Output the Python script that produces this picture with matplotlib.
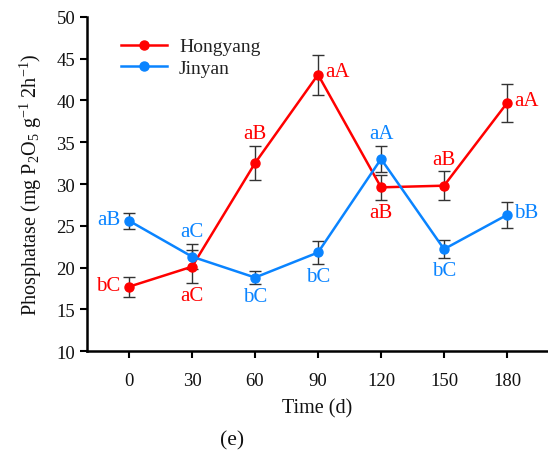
import matplotlib
matplotlib.use("Agg")
import matplotlib.pyplot as plt

plt.rcParams['font.family'] = ['Liberation Serif', 'DejaVu Serif']
plt.rcParams['mathtext.fontset'] = 'custom'
plt.rcParams['mathtext.rm'] = 'Liberation Serif'
plt.rcParams['mathtext.it'] = 'Liberation Serif:italic'

days = [0, 30, 60, 90, 120, 150, 180]
hongyang = [17.7, 20.1, 32.5, 43.1, 29.6, 29.8, 39.7]
hongyang_err = [1.2, 2.0, 2.05, 2.4, 1.5, 1.7, 2.25]
jinyan = [25.6, 21.3, 18.8, 21.8, 33.0, 22.2, 26.3]
jinyan_err = [0.95, 1.5, 0.8, 1.35, 1.6, 1.05, 1.6]
hongyang_labels = ['bC', 'aC', 'aB', 'aA', 'aB', 'aB', 'aA']
jinyan_labels = ['aB', 'aC', 'bC', 'bC', 'aA', 'bC', 'bB']
hongyang_pos = ['left', 'below', 'above', 'right', 'below', 'above', 'right']
jinyan_pos = ['left', 'above', 'below', 'below', 'above', 'below', 'right']

RED = '#ff0000'
BLUE = '#0a84ff'

fig = plt.figure(figsize=(5.48, 4.52), dpi=100)
ax = fig.add_axes([0.1588, 0.2212, 0.8412, 0.739])

for y, e, c, name in [(hongyang, hongyang_err, RED, 'Hongyang'),
                      (jinyan, jinyan_err, BLUE, 'Jinyan')]:
    ax.plot(days, y, color=c, lw=1.8, marker='o', ms=6.5, label=name, zorder=3)
    ax.errorbar(days, y, yerr=e, fmt='none', ecolor='#333333', elinewidth=1.0,
                capsize=4, capthick=1.0, zorder=2)

offsets = {'left': (-6, 1, 'right', 'center'),
           'right': (5, 2, 'left', 'center'),
           'above': (0, 2, 'center', 'bottom'),
           'below': (0, -2, 'center', 'top')}

for y, e, labs, pos, c in [(hongyang, hongyang_err, hongyang_labels, hongyang_pos, RED),
                           (jinyan, jinyan_err, jinyan_labels, jinyan_pos, BLUE)]:
    for xi, yi, ei, lab, p in zip(days, y, e, labs, pos):
        dx, dy, ha, va = offsets[p]
        if p == 'above':
            yy = yi + ei
        elif p == 'below':
            yy = yi - ei
        else:
            yy = yi
        ax.annotate(lab, (xi, yy), xytext=(dx, dy), textcoords='offset points',
                    ha=ha, va=va, color=c, fontsize=15)

ax.set_xlim(-20, 199.5)
ax.set_ylim(10, 50)
ax.set_xticks(days)
ax.set_yticks(range(10, 51, 5))
ax.tick_params(axis='both', direction='out', labelsize=13.5, width=1.5, length=5,
               labelcolor='#111111')
ax.tick_params(axis='x', pad=10)
for s in ['top', 'right']:
    ax.spines[s].set_visible(False)
for s in ['left', 'bottom']:
    ax.spines[s].set_linewidth(1.8)

ax.set_ylabel('Phosphatase (mg P$_2$O$_5$ g$^{-1}$ 2h$^{-1}$)', fontsize=14.5,
              labelpad=9, color='#111111')
ax.set_xlabel('Time (d)', fontsize=14.5, labelpad=7, color='#111111')
fig.text(0.423, 0.015, '(e)', fontsize=15.5, ha='center', color='#111111')

leg = ax.legend(loc='upper left', bbox_to_anchor=(0.035, 0.99), frameon=False,
                fontsize=14, handlelength=2.4, handletextpad=0.6, labelspacing=0.2)
for t in leg.get_texts():
    t.set_color('#222222')

fig.savefig('out.png', dpi=100)
